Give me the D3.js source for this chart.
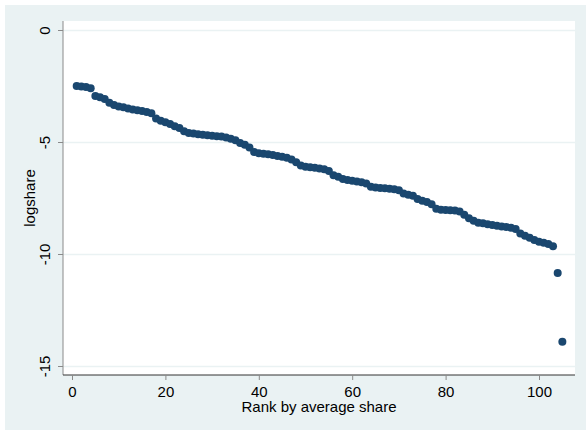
<!DOCTYPE html>
<html>
<head>
<meta charset="utf-8">
<script src="https://cdn.jsdelivr.net/npm/d3@7"></script>
<style>
  body { margin: 0; background: #fff; }
  svg { display: block; font-family: "Liberation Sans", Arial, sans-serif; }
</style>
</head>
<body>
<svg id="chart" width="586" height="430"></svg>
<script>
// logshare by rank
const logshare = [
  -2.50, -2.52, -2.55, -2.60, -2.95, -3.00, -3.08, -3.25, -3.35, -3.42,
  -3.45, -3.50, -3.55, -3.58, -3.62, -3.66, -3.72, -3.95, -4.05, -4.12,
  -4.20, -4.30, -4.38, -4.52, -4.60, -4.62, -4.65, -4.68, -4.70, -4.72,
  -4.74, -4.76, -4.80, -4.85, -4.92, -5.05, -5.12, -5.25, -5.45, -5.50,
  -5.52, -5.55, -5.58, -5.62, -5.66, -5.70, -5.78, -5.90, -6.05, -6.10,
  -6.13, -6.15, -6.18, -6.22, -6.30, -6.48, -6.55, -6.65, -6.70, -6.73,
  -6.76, -6.80, -6.85, -7.00, -7.03, -7.05, -7.07, -7.09, -7.11, -7.15,
  -7.30, -7.35, -7.40, -7.55, -7.62, -7.68, -7.78, -7.98, -8.02, -8.04,
  -8.05, -8.06, -8.10, -8.25, -8.40, -8.52, -8.60, -8.63, -8.67, -8.71,
  -8.74, -8.77, -8.80, -8.83, -8.88, -9.08, -9.18, -9.28, -9.38, -9.45,
  -9.50, -9.55, -9.65, -10.85, -13.92
]
const ranks = logshare.map((v, i) => i + 1)
const xTicks = [0, 20, 40, 60, 80, 100]
const yTicks = [0, -5, -10, -15]

const svg = d3.select('#chart')

/* ----------  BACKGROUND  ---------- */
svg.append('rect')
  .attr('x', 5).attr('y', 5)
  .attr('width', 581).attr('height', 425)
  .attr('fill', '#eaf2f3')

const plot = { left: 63, top: 21, right: 575, bottom: 375 }

svg.append('rect')
  .attr('x', plot.left).attr('y', plot.top)
  .attr('width', plot.right - plot.left)
  .attr('height', plot.bottom - plot.top)
  .attr('fill', '#fff')

/* ----------  SCALES  ---------- */
// 0 -> 72px, 100 -> 539px ; 0 -> 30px, -15 -> 366px
const x = d3.scaleLinear().domain([0, 100]).range([72, 539])
const y = d3.scaleLinear().domain([0, -15]).range([30, 366])
const fmt = d => String(d) // plain hyphen, as in the original

/* gridlines */
svg.append('g')
  .attr('transform', `translate(${plot.left},0)`)
  .call(d3.axisLeft(y).tickValues(yTicks).tickSize(-(plot.right - plot.left)).tickFormat(''))
  .call(g => g.select('.domain').remove())
  .selectAll('.tick line')
  .attr('stroke', '#eaf2f3')
  .attr('stroke-width', 1.5)

/* y axis */
const yAxis = svg.append('g')
  .attr('transform', `translate(${plot.left},0)`)
  .call(d3.axisLeft(y).tickValues(yTicks).tickFormat(fmt).tickSize(5).tickSizeOuter(0))

yAxis.select('.domain')
  .attr('d', `M0,${plot.top}V${plot.bottom}`)
  .attr('stroke', '#8a8a8a')
yAxis.selectAll('.tick line').attr('stroke', '#8a8a8a')
yAxis.selectAll('.tick text')
  .attr('transform', 'rotate(-90)')
  .attr('x', 0)
  .attr('y', -13)
  .attr('dy', 0)
  .attr('text-anchor', 'middle')
  .style('font-size', '15px')
  .attr('fill', '#000')

/* x axis */
const xAxis = svg.append('g')
  .attr('transform', `translate(0,${plot.bottom})`)
  .call(d3.axisBottom(x).tickValues(xTicks).tickFormat(fmt).tickSize(5).tickPadding(6).tickSizeOuter(0))

xAxis.select('.domain')
  .attr('d', `M${plot.left},0H${plot.right}`)
  .attr('stroke', '#333')
xAxis.selectAll('.tick line').attr('stroke', '#8a8a8a')
xAxis.selectAll('.tick text')
  .style('font-size', '15px')
  .attr('fill', '#000')

/* axis titles */
svg.append('text')
  .attr('x', 319)
  .attr('y', 412)
  .attr('text-anchor', 'middle')
  .style('font-size', '15px')
  .text('Rank by average share')

svg.append('text')
  .attr('transform', `translate(35,${(plot.top + plot.bottom) / 2}) rotate(-90)`)
  .attr('text-anchor', 'middle')
  .style('font-size', '15px')
  .text('logshare')

/* ----------  POINTS  ---------- */
svg.append('g')
  .selectAll('circle')
  .data(logshare)
  .enter().append('circle')
  .attr('cx', (d, i) => x(ranks[i]))
  .attr('cy', d => y(d))
  .attr('r', 4)
  .attr('fill', '#1a476f')
</script>
</body>
</html>
